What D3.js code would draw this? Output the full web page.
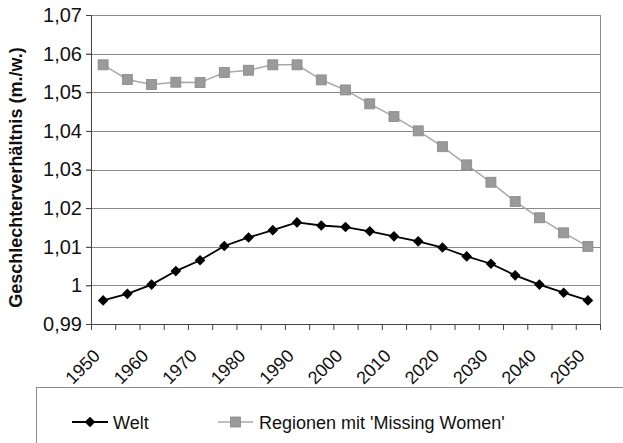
<!DOCTYPE html>
<html>
<head>
<meta charset="utf-8">
<script src="https://cdn.jsdelivr.net/npm/d3@7"></script>
<style>
	body { margin: 0; background: #fff; }
	svg { display: block; font-family: Arial, "Liberation Sans", sans-serif; }
</style>
</head>
<body>
<div id="chart"></div>
<script>
const years = [1950, 1955, 1960, 1965, 1970, 1975, 1980, 1985, 1990, 1995, 2000,
	2005, 2010, 2015, 2020, 2025, 2030, 2035, 2040, 2045, 2050];
const welt = [0.9961, 0.9978, 1.0002, 1.0037, 1.0065, 1.0102, 1.0124, 1.0143, 1.0163, 1.0155, 1.0151,
	1.0140, 1.0127, 1.0114, 1.0098, 1.0075, 1.0056, 1.0026, 1.0002, 0.9981, 0.9961];
const regionen = [1.0571, 1.0533, 1.0520, 1.0526, 1.0525, 1.0551, 1.0557, 1.0571, 1.0571, 1.0532, 1.0506,
	1.0470, 1.0437, 1.0400, 1.0359, 1.0312, 1.0267, 1.0217, 1.0175, 1.0136, 1.0101];
const yTicks = [0.99, 1.00, 1.01, 1.02, 1.03, 1.04, 1.05, 1.06, 1.07];
const xLabels = [1950, 1960, 1970, 1980, 1990, 2000, 2010, 2020, 2030, 2040, 2050];
const seriesNames = ["Welt", "Regionen mit 'Missing Women'"];

const width = 623, height = 443;
const margin = {top: 15, right: 23, bottom: 119, left: 91};
const w = width - margin.left - margin.right;
const h = height - margin.top - margin.bottom;

const svg = d3.select("#chart").append("svg")
	.attr("width", width)
	.attr("height", height);

const g = svg.append("g").attr("transform", "translate(" + margin.left + "," + margin.top + ")");

const xscale = d3.scaleBand().domain(years).range([0, w]);
const xedge = d3.scaleLinear().domain([0, years.length]).range([0, w]);
const yscale = d3.scaleLinear().domain([0.99, 1.07]).range([h, 0]);

const fmt = d => String(+d.toFixed(2)).replace(".", ",");

// gridlines
g.append("g")
	.selectAll("line")
	.data(yTicks)
	.join("line")
	.attr("x1", -5).attr("x2", w)
	.attr("y1", d => Math.round(yscale(d)) + 0.5)
	.attr("y2", d => Math.round(yscale(d)) + 0.5)
	.attr("stroke", "#8a8a8a");

// right border
g.append("line")
	.attr("x1", w + 0.5).attr("x2", w + 0.5)
	.attr("y1", 0).attr("y2", h + 6)
	.attr("stroke", "#8a8a8a");

const y_axis = d3.axisLeft(yscale).tickValues(yTicks).tickFormat(fmt).tickSize(5).tickPadding(4);
const yAx = g.append("g").call(y_axis);
yAx.select(".domain").attr("stroke", "#444");
yAx.selectAll(".tick line").attr("stroke", "#444");
yAx.selectAll("text").attr("font-size", "20px").attr("fill", "#111");

const x_axis = d3.axisBottom(xedge).tickValues(d3.range(years.length + 1)).tickFormat("").tickSize(6).tickSizeOuter(0);
const xAx = g.append("g").attr("transform", "translate(0," + h + ")").call(x_axis);
xAx.select(".domain").attr("stroke", "#444");
xAx.selectAll(".tick line").attr("stroke", "#444");

g.append("g")
	.selectAll("text")
	.data(xLabels)
	.join("text")
	.attr("transform", d => "translate(" + (xscale(d) + xscale.bandwidth() / 2 - 2) + "," + (h + 33) + ") rotate(-45)")
	.attr("text-anchor", "end")
	.attr("font-size", "18px")
	.attr("fill", "#111")
	.text(d => d);

// y title
svg.append("text")
	.attr("transform", "translate(22," + (margin.top + h / 2 + 8) + ") rotate(-90)")
	.attr("text-anchor", "middle")
	.attr("font-size", "18px")
	.attr("font-weight", "bold")
	.attr("fill", "#111")
	.text("Geschlechterverhältnis (m./w.)");

const cx = (d, i) => xscale(years[i]) + xscale.bandwidth() / 2;
const line = d3.line().x(cx).y(d => yscale(d));

// Regionen series
g.append("path")
	.attr("d", line(regionen))
	.attr("fill", "none")
	.attr("stroke", "#a8a8a8")
	.attr("stroke-width", 1.5);
g.append("g")
	.selectAll("rect")
	.data(regionen)
	.join("rect")
	.attr("x", (d, i) => cx(d, i) - 5)
	.attr("y", d => yscale(d) - 5)
	.attr("width", 10).attr("height", 10)
	.attr("fill", "#9a9a9a")
	.attr("stroke", "#888")
	.attr("stroke-width", 0.8);

// Welt series
g.append("path")
	.attr("d", line(welt))
	.attr("fill", "none")
	.attr("stroke", "#000")
	.attr("stroke-width", 1.8);
const diamond = d3.symbol().type(d3.symbolDiamond2).size(72);
g.append("g")
	.selectAll("path")
	.data(welt)
	.join("path")
	.attr("transform", (d, i) => "translate(" + cx(d, i) + "," + yscale(d) + ")")
	.attr("d", diamond)
	.attr("fill", "#000");

// legend
const leg = svg.append("g");
leg.append("rect")
	.attr("x", 36.5).attr("y", 387.5)
	.attr("width", 620).attr("height", 80)
	.attr("fill", "none")
	.attr("stroke", "#8a8a8a");

const ly = 422;
leg.append("line").attr("x1", 72).attr("x2", 108).attr("y1", ly).attr("y2", ly)
	.attr("stroke", "#000").attr("stroke-width", 1.8);
leg.append("path").attr("transform", "translate(90," + ly + ")").attr("d", diamond).attr("fill", "#000");
leg.append("text").attr("x", 113).attr("y", ly + 6.5).attr("font-size", "18px").attr("fill", "#111").text(seriesNames[0]);

leg.append("line").attr("x1", 218).attr("x2", 253).attr("y1", ly).attr("y2", ly)
	.attr("stroke", "#a8a8a8").attr("stroke-width", 1.5);
leg.append("rect").attr("x", 230.5).attr("y", ly - 5).attr("width", 10).attr("height", 10)
	.attr("fill", "#9a9a9a").attr("stroke", "#888").attr("stroke-width", 0.8);
leg.append("text").attr("x", 259).attr("y", ly + 6.5).attr("font-size", "18px").attr("fill", "#111").text(seriesNames[1]);
</script>
</body>
</html>
